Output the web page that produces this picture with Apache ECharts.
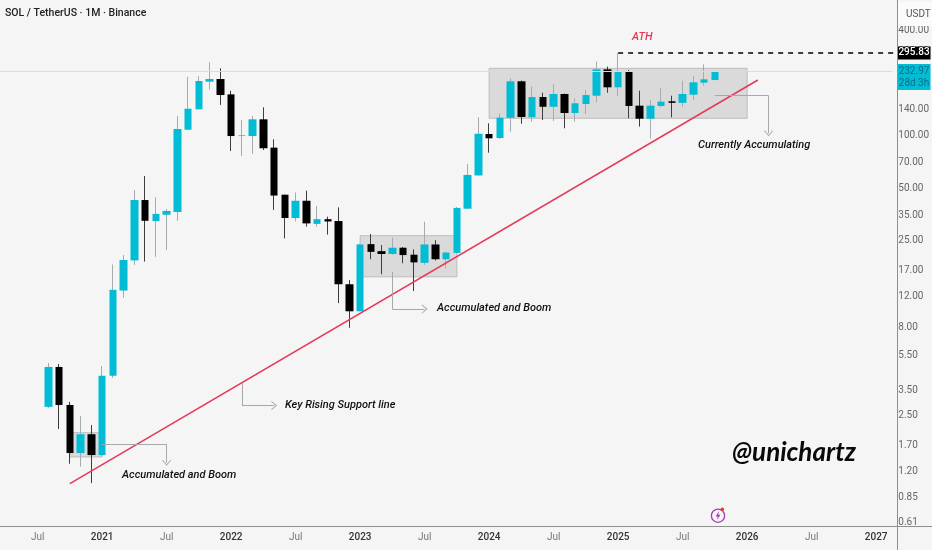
<!DOCTYPE html>
<html>
<head>
<meta charset="utf-8">
<style>html,body{margin:0;padding:0;background:#f5f5f5}#c{width:932px;height:550px}</style>
<script src="https://cdn.jsdelivr.net/npm/echarts@6/dist/echarts.min.js"></script>
</head>
<body>
<div id="c"></div>
<script>
const months = [
'2020-04','2020-05','2020-06','2020-07','2020-08','2020-09','2020-10','2020-11','2020-12',
'2021-01','2021-02','2021-03','2021-04','2021-05','2021-06','2021-07','2021-08','2021-09','2021-10','2021-11','2021-12',
'2022-01','2022-02','2022-03','2022-04','2022-05','2022-06','2022-07','2022-08','2022-09','2022-10','2022-11','2022-12',
'2023-01','2023-02','2023-03','2023-04','2023-05','2023-06','2023-07','2023-08','2023-09','2023-10','2023-11','2023-12',
'2024-01','2024-02','2024-03','2024-04','2024-05','2024-06','2024-07','2024-08','2024-09','2024-10','2024-11','2024-12',
'2025-01','2025-02','2025-03','2025-04','2025-05','2025-06','2025-07','2025-08','2025-09','2025-10','2025-11','2025-12',
'2026-01','2026-02','2026-03','2026-04','2026-05','2026-06','2026-07','2026-08','2026-09','2026-10','2026-11','2026-12',
'2027-01','2027-02'];
// candles start at 2020-08 and run to 2025-10
const firstCandle = '2020-08';
const open  = [2.81,4.75,2.88,1.53,1.96,1.49,4.23,12.98,19.3,42.7,32.4,35.2,36.5,107.7,140.9,202.6,210,171.5,99.1,99.1,123.5,85.1,45.8,33.7,42.3,31.2,33.2,32.4,14.1,9.88,23.9,21.8,21.0,22.8,20.8,18.7,23.8,19.6,21.3,38.1,59,101.8,96.6,126,203.7,126.9,165.6,145.7,172.3,134.2,151,168.5,238.4,188.2,233.2,147.8,124.5,147.2,156.6,153.4,170.7,200,207.2];
const close = [4.75,2.88,1.53,1.96,1.49,4.23,13.1,19.4,42.7,32.5,35.6,37.0,108.7,142.0,204.5,210,170,99.1,100.0,123.5,84.4,45.3,33.7,42.3,31.4,33.2,32.2,14.1,9.88,23.8,21.6,21.0,22.8,20.7,18.8,23.8,19.6,21.4,38.5,59.4,102.1,96.2,126.2,203.7,127.3,165.6,145.7,172.3,134.2,152.5,170,238.4,188.2,233.2,147.2,124.5,147.8,155.8,153.4,172.3,201,209,232.97];
const high  = [5.0,4.94,3.0,2.49,2.21,4.81,18.3,20.7,48.7,58.6,44.4,38.0,129,216,218.3,261.5,241.6,179.9,122.4,129,144.6,95,45.8,47.2,48.3,39.5,34.3,38.8,14.9,24,27.3,23.6,26.0,23.0,22.3,32.1,25.2,21.6,39.0,68.6,126.9,117.2,133.6,211.9,205.6,189.8,175.3,195.7,173.5,162.9,181.6,263.7,247,295.83,236.3,179.9,159.3,185.7,168.5,205.3,218.3,254.6,233.5];
const low   = [2.77,2.10,1.33,1.28,1.03,1.47,4.11,11.8,18.2,19.0,20.2,22.1,32.5,107.7,140.9,183,149.2,81.4,76.2,78.3,82.5,37.5,25.8,32.2,30.1,30.0,27.1,11.0,7.95,9.88,19.6,16.1,20.8,18.6,12.9,18.2,19.3,17.4,21.1,38.1,59,79.6,95.3,104.9,116.6,119.7,122.4,120.8,109.7,119.7,132.4,154.5,175.3,168.5,125.2,112.2,95.7,144.6,126.9,145.7,159.3,192.3,206];
const priceTicks = [400,300,140,100,70,50,35,25,17,12,8,5.5,3.5,2.5,1.7,1.2,0.85,0.61];
const athPrice = 295.83;
const lastPrice = 232.97;
const lastCountdown = '28d 3h';

const FONT = 'Roboto';
const ANNOT = 'Roboto';
const TEAL = '#00bcd4';
const RED = '#e5395a';
const ARROW = '#a8a8a8';
const CHEV = 'path://M0 0 L10 10 L8.6 11 L0 2.6 L-8.6 11 L-10 10 Z';
const first = months.indexOf(firstCandle);
const idx = m => { const i = months.indexOf(m) - first; return (i >= 0 && i < open.length) ? i : -1; };
const wickData = months.map(m => { const i = idx(m); return i < 0 ? '-' : [open[i], close[i], low[i], high[i]]; });
const bodyData = months.map(m => { const i = idx(m); return i < 0 ? '-' : [open[i], close[i], Math.min(open[i], close[i]), Math.max(open[i], close[i])]; });

const seg = (a, b, arrow) => [
  {xAxis: a[0], yAxis: a[1], symbol: 'none'},
  {xAxis: b[0], yAxis: b[1], symbol: arrow ? CHEV : 'none', symbolSize: arrow ? [9, 6] : 0}
];
const last = months[months.length - 1];
const zones = [
  [['2020-10', 2.0], ['2021-01', 1.454]],
  [['2023-01', 26.7], ['2023-10', 15.55]],
  [['2024-01', 241.6], ['2026-01', 125.2]]
];

const txt = (x, y, s, extra) => ({type: 'text', left: x, top: y, z: 20,
  style: Object.assign({text: s, fill: '#111', font: 'italic 500 11px ' + ANNOT}, extra || {})});

const option = {
  animation: false,
  backgroundColor: '#f5f5f5',
  grid: {left: -4.07, top: 0, width: 900.55, height: 526.5},
  xAxis: {
    type: 'category', data: months, boundaryGap: true, z: 10,
    axisLine: {show: false}, axisTick: {show: false}, splitLine: {show: false},
    axisLabel: {
      margin: 6, fontFamily: FONT, fontSize: 10,
      interval: (i, v) => v.endsWith('-01') || v.endsWith('-07'),
      formatter: v => v.endsWith('-01') ? '{y|' + v.slice(0, 4) + '}' : '{m|Jul}',
      rich: {y: {fontFamily: FONT, fontSize: 10, fontWeight: 500, color: '#333'},
             m: {fontFamily: FONT, fontSize: 10, color: '#777'}}
    }
  },
  yAxis: {
    type: 'log', logBase: 10, position: 'right', min: 0.582, max: 593.6, z: 0,
    axisLine: {show: false}, axisTick: {show: false}, splitLine: {show: false}, minorTick: {show: false},
    axisLabel: {
      margin: 6, fontFamily: FONT, fontSize: 10, color: '#666',
      customValues: priceTicks, showMinLabel: true, showMaxLabel: true,
      formatter: v => Number(v).toFixed(2)
    }
  },
  series: [
    {
      type: 'candlestick', name: 'wicks', data: wickData, barWidth: 1, silent: true,
      itemStyle: {color: '#a3adb0', color0: '#3d3d3d', borderColor: '#a3adb0', borderColor0: '#3d3d3d', borderWidth: 1},
      markArea: {
        silent: true,
        itemStyle: {color: 'rgba(110,110,110,0.2)', borderColor: '#bdbdbd', borderWidth: 1},
        data: zones.map(z => [{xAxis: z[0][0], yAxis: z[0][1]}, {xAxis: z[1][0], yAxis: z[1][1]}])
      },
      markLine: {
        silent: true, symbol: 'none', animation: false, label: {show: false}, emphasis: {disabled: true},
        data: [
          {yAxis: lastPrice, lineStyle: {color: '#b9e9ee', width: 1, type: 'solid'}},
          [{xAxis: '2020-10', yAxis: 1.024, lineStyle: {color: RED, width: 1.5, type: 'solid'}}, {xAxis: '2026-02', yAxis: 207.2}],
          [{xAxis: '2025-01', yAxis: athPrice, lineStyle: {color: '#000', width: 1.5, type: [5, 5]}}, {xAxis: last, yAxis: athPrice, x: 897}],
          seg(['2021-01', 1.72], ['2021-07', 1.72]).map((p, i) => Object.assign(p, i ? {} : {lineStyle: {color: ARROW, width: 1, type: 'solid'}})),
          seg(['2021-07', 1.72], ['2021-07', 1.346], true).map((p, i) => Object.assign(p, i ? {} : {lineStyle: {color: ARROW, width: 1, type: 'solid'}})),
          seg(['2022-02', 3.84], ['2022-02', 2.86]).map((p, i) => Object.assign(p, i ? {} : {lineStyle: {color: ARROW, width: 1, type: 'solid'}})),
          seg(['2022-02', 2.86], ['2022-05', 2.86], true).map((p, i) => Object.assign(p, i ? {} : {lineStyle: {color: ARROW, width: 1, type: 'solid'}})),
          seg(['2023-04', 16.6], ['2023-04', 10.18]).map((p, i) => Object.assign(p, i ? {} : {lineStyle: {color: ARROW, width: 1, type: 'solid'}})),
          seg(['2023-04', 10.18], ['2023-07', 10.18], true).map((p, i) => Object.assign(p, i ? {} : {lineStyle: {color: ARROW, width: 1, type: 'solid'}})),
          seg(['2025-10', 168.5], ['2026-03', 168.5]).map((p, i) => Object.assign(p, i ? {} : {lineStyle: {color: ARROW, width: 1, type: 'solid'}})),
          seg(['2026-03', 168.5], ['2026-03', 102.7], true).map((p, i) => Object.assign(p, i ? {} : {lineStyle: {color: ARROW, width: 1, type: 'solid'}}))
        ]
      },
      markPoint: {
        silent: true, animation: false,
        data: [
          {xAxis: last, yAxis: athPrice, x: 914, symbol: 'rect', symbolSize: [33, 13],
            itemStyle: {color: '#000'},
            label: {show: true, position: 'inside', formatter: athPrice.toFixed(2), color: '#fff', fontFamily: FONT, fontSize: 10, fontWeight: 500}},
          {xAxis: last, yAxis: lastPrice, x: 914, symbol: 'rect', symbolSize: [33, 26], symbolOffset: [0, 6],
            itemStyle: {color: TEAL},
            label: {show: true, position: 'inside', formatter: lastPrice.toFixed(2) + '\n' + lastCountdown, color: '#0a6f86', fontFamily: FONT, fontSize: 10, lineHeight: 12}}
        ]
      }
    },
    {
      type: 'candlestick', name: 'bodies', data: bodyData, barWidth: 8, silent: true,
      itemStyle: {color: TEAL, color0: '#000', borderColor: TEAL, borderColor0: '#000', borderWidth: 0}
    }
  ],
  graphic: [
    {type: 'rect', z: 5, shape: {x: 898, y: 2, width: 34, height: 24}, style: {fill: '#fbfbfb'}},
    {type: 'rect', z: 5, shape: {x: 898, y: 527, width: 34, height: 23}, style: {fill: '#f5f5f5'}},
    {type: 'line', z: 9, shape: {x1: 0, y1: 526.5, x2: 932, y2: 526.5}, style: {stroke: '#8f8f8f', lineWidth: 1}},
    {type: 'line', z: 9, shape: {x1: 897.5, y1: 0, x2: 897.5, y2: 550}, style: {stroke: '#8f8f8f', lineWidth: 1}},
    txt(906, 9, 'USDT', {font: '10px ' + FONT, fill: '#555'}),
    txt(5, 8, 'SOL / TetherUS · 1M · Binance', {font: '500 10.5px ' + FONT, fill: '#222'}),
    txt(632, 32, 'ATH', {fill: RED}),
    txt(122, 470, 'Accumulated and Boom'),
    txt(437, 303, 'Accumulated and Boom'),
    txt(285, 400, 'Key Rising Support line'),
    txt(698, 140, 'Currently Accumulating'),
    txt(732, 440, '@unichartz', {font: 'italic bold 26px Lato', fill: '#0a0a0a'}),
    {type: 'circle', z: 20, shape: {cx: 718, cy: 515.7, r: 6.6}, style: {fill: 'none', stroke: '#a43ab8', lineWidth: 1.3}},
    {type: 'polygon', z: 20, shape: {points: [[719, 511], [715.7, 516.5], [717.8, 516.5], [717, 520], [720.4, 514.8], [718.2, 514.8]]}, style: {fill: '#a43ab8'}},
    {type: 'circle', z: 21, shape: {cx: 722.3, cy: 509.3, r: 1.8}, style: {fill: '#e53935'}}
  ]
};
const chart = echarts.init(document.getElementById('c'), null, {renderer: 'canvas'});
chart.setOption(option);
</script>
</body>
</html>
